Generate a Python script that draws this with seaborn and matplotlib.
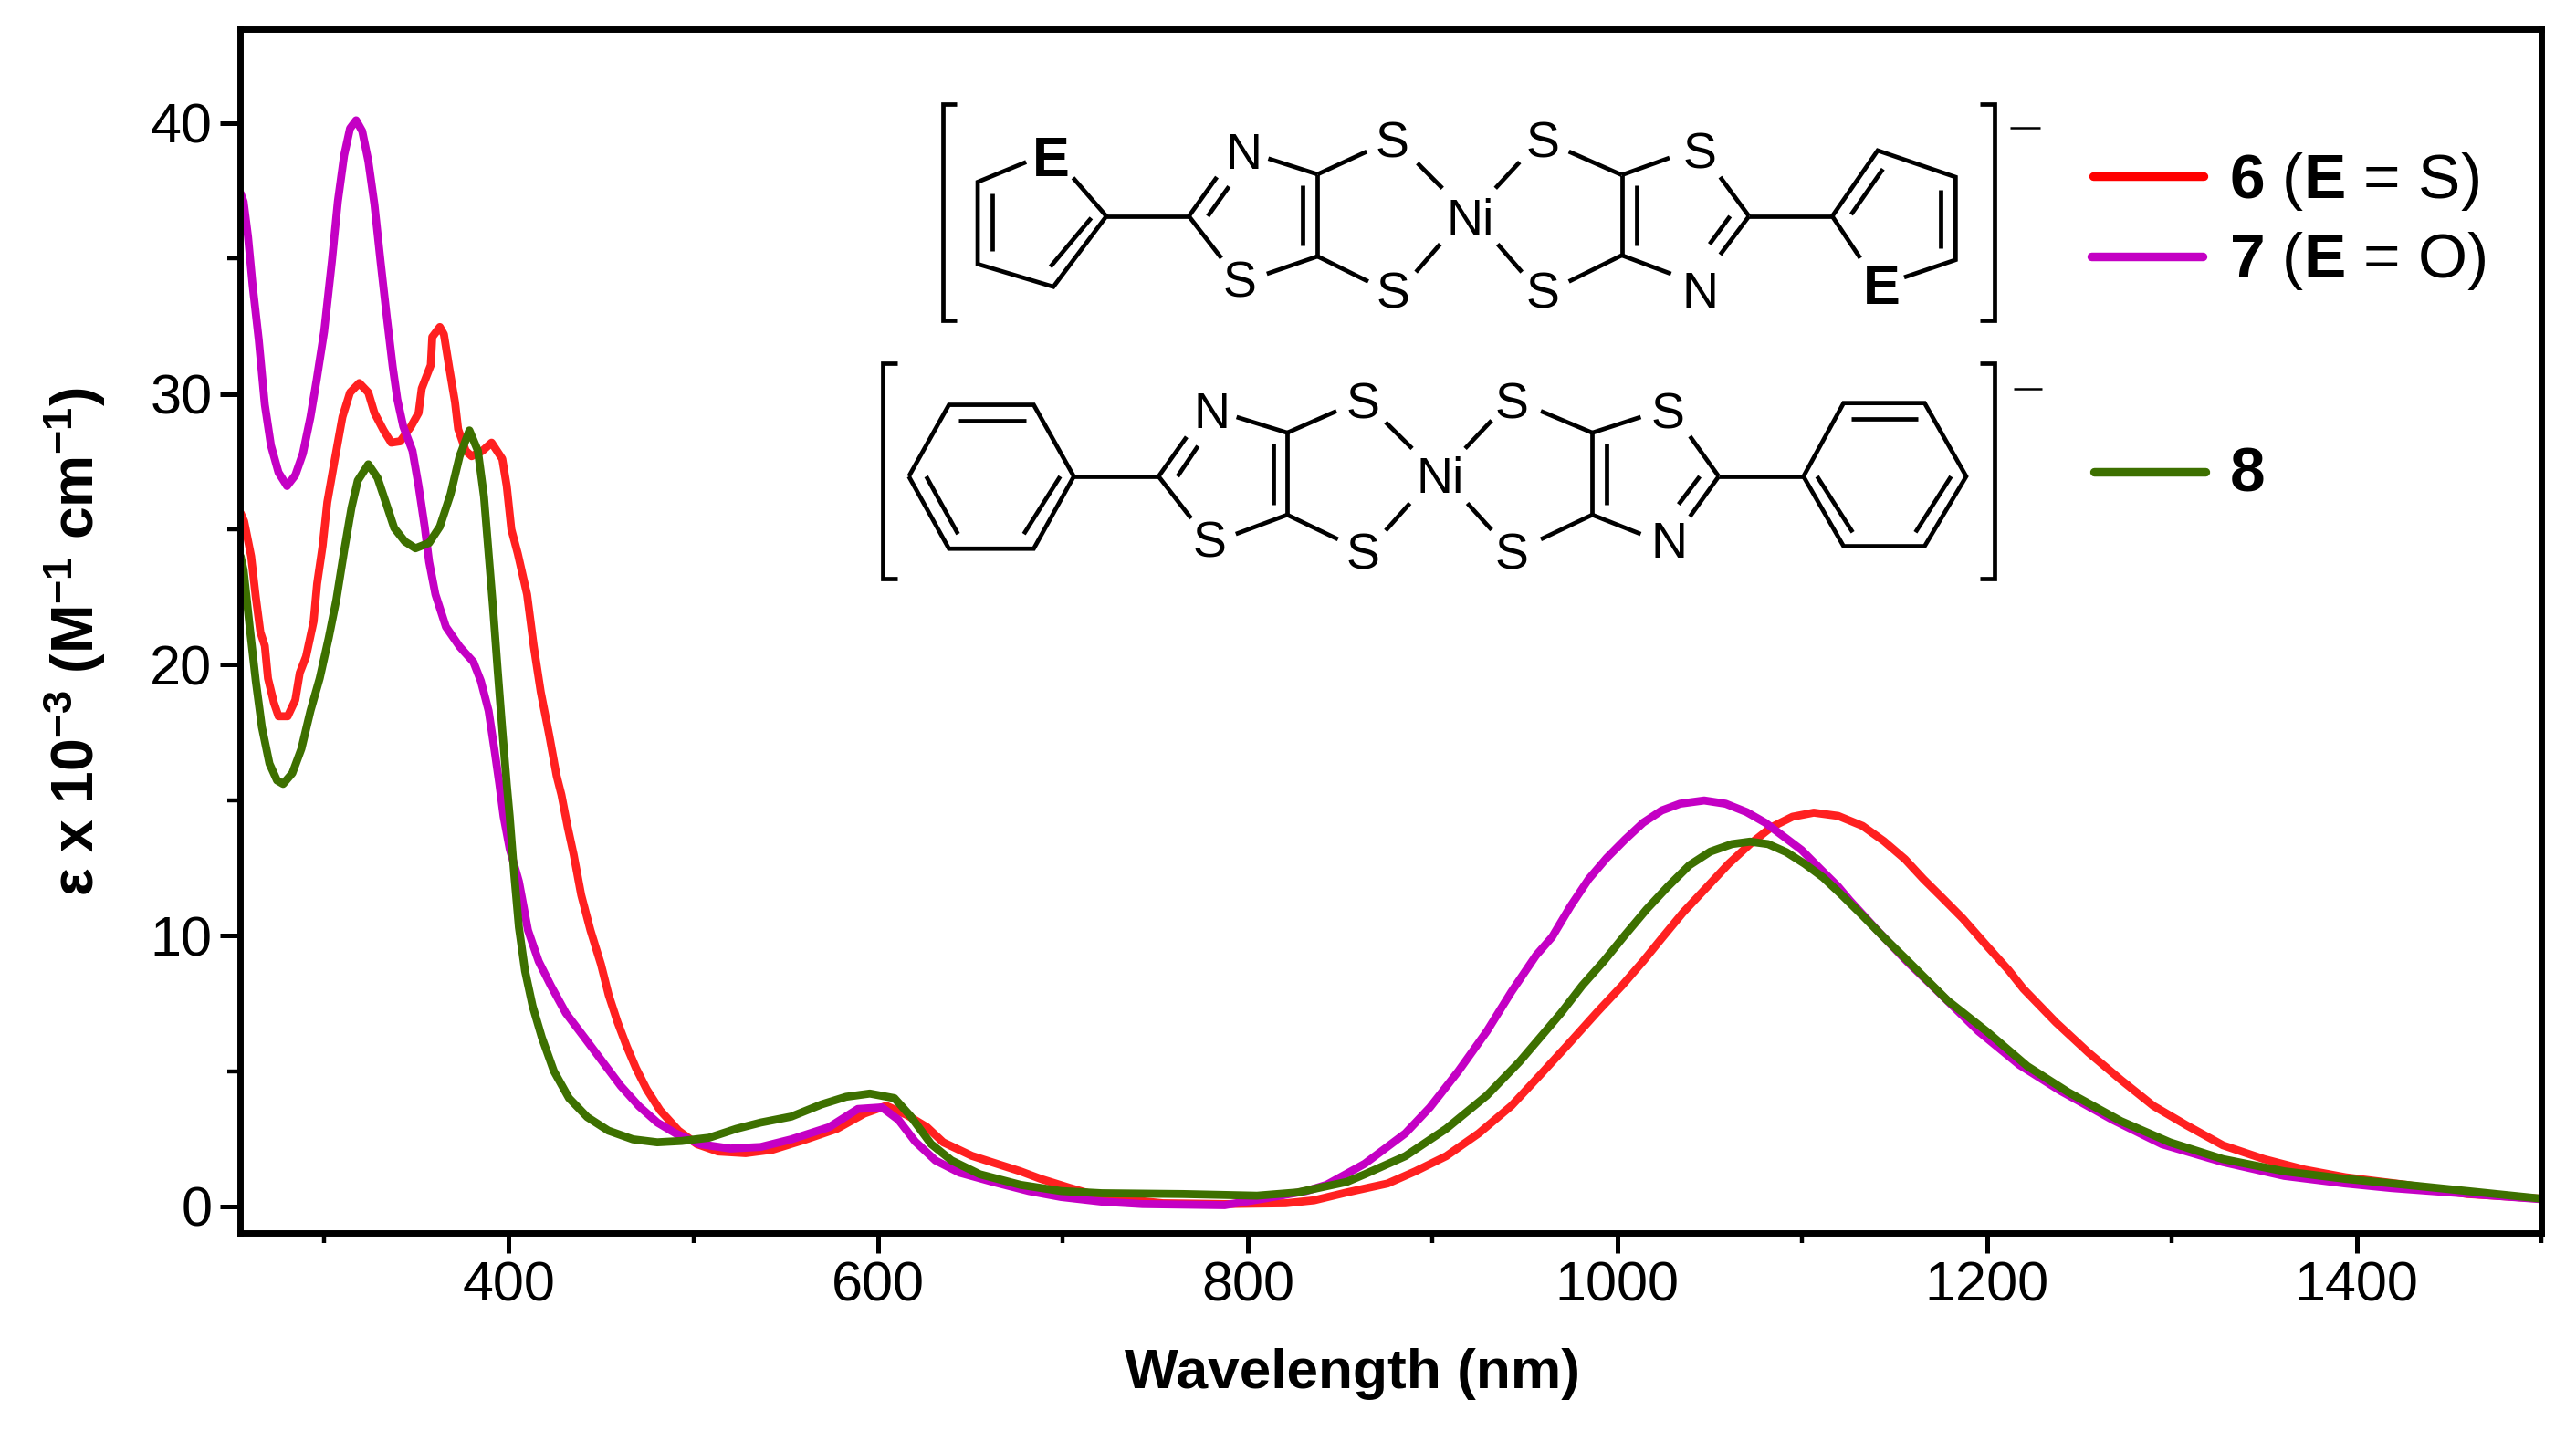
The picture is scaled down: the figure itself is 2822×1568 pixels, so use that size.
import numpy as np
import pandas as pd
import matplotlib
matplotlib.use("Agg")
import matplotlib.pyplot as plt
from matplotlib.lines import Line2D
from matplotlib.ticker import MultipleLocator
import seaborn as sns

# ---------- data ----------
red_nm = [255,256.9,260.7,263.2,265.7,268.1,269.8,273,275.5,280.5,284.6,287,290.4,294.5,296.4,299.4,301.9,306,310.1,314.2,319.2,324.1,327.4,332.4,336.5,341.4,347.2,351.3,353,357.9,358.7,362.8,365,367.8,371,372.7,376.8,380,385.9,390.8,396.6,399,401.5,405,410,413.6,417.4,422,426,428.6,432,435.2,439.3,444.3,450,454.2,459,464,469,474.7,482,492,502,513.4,528.3,543,561,577.7,592.5,604.4,615.4,626.4,635.2,650.7,677,688,703.6,721,754,787.5,820.5,836,853.6,875.7,890.7,907.4,925,942.7,958,973.6,989.4,1002.6,1014,1024,1035.5,1048.7,1060.2,1071.8,1083.3,1094.8,1106.3,1119.5,1132.7,1144.2,1155.7,1165.6,1175.5,1187,1200,1211.8,1219.7,1237.3,1255,1272.6,1290,1308,1327.7,1350,1372,1394,1427,1460,1500]
red_val = [25.6,25.3,24.0,22.5,21.2,20.7,19.5,18.6,18.1,18.1,18.7,19.7,20.3,21.6,23.0,24.4,26.0,27.6,29.15,30.05,30.4,30.05,29.3,28.65,28.2,28.25,28.8,29.3,30.2,31.06,32.1,32.47,32.2,31.0,29.7,28.7,27.9,27.7,27.9,28.2,27.6,26.6,25.0,24.1,22.6,20.7,19.0,17.4,15.9,15.2,14.0,13.0,11.5,10.2,8.94,7.8,6.8,5.9,5.1,4.33,3.55,2.8,2.3,2.03,1.97,2.1,2.48,2.87,3.43,3.72,3.38,2.93,2.37,1.87,1.3,1.02,0.69,0.35,0.12,0.09,0.12,0.23,0.52,0.85,1.3,1.86,2.7,3.72,4.84,6.0,7.2,8.16,9.06,9.9,10.85,11.81,12.65,13.38,14.0,14.39,14.54,14.42,14.05,13.49,12.82,12.09,11.42,10.63,9.62,8.72,8.04,6.8,5.68,4.67,3.72,3.0,2.26,1.75,1.36,1.08,0.8,0.46,0.29]

purple_nm = [255,256.6,259,261.5,264.8,268.1,271.4,275.5,280.1,284.6,288.7,292.8,296.1,300.2,304.4,307.6,311,314.2,317.5,320.8,324.1,327.4,330.7,334,337.3,339.8,343,348,351.3,354.6,357,360.4,366.1,373.5,381,385,389.2,392.5,395,397.3,400.6,405.6,410.5,416.3,422.9,431,441,450.9,460.7,470.6,480.5,490.4,503.6,520,536.5,553,573.5,589,602,611,620,631,644,662,681.6,699,721,743,765,787.5,809.5,831.6,842.6,863.3,885.3,898.6,914,929.4,942.7,956,964.7,974.6,984.5,994.3,1004.2,1014,1024,1033.9,1047,1058.6,1070,1080,1090,1099.7,1109.6,1119.5,1125.8,1141,1156.7,1172,1195.4,1217.5,1239.5,1268,1294.7,1327.7,1360.8,1394,1419,1500]
purple_val = [37.4,37.1,35.8,34.0,32.0,29.6,28.1,27.1,26.6,27.0,27.8,29.15,30.5,32.3,34.9,37.1,38.8,39.8,40.1,39.7,38.6,37.0,34.9,32.9,31.0,29.8,28.8,27.9,26.6,25.1,23.8,22.6,21.4,20.67,20.1,19.4,18.3,16.8,15.6,14.4,13.2,12.0,10.2,9.05,8.15,7.14,6.24,5.34,4.45,3.7,3.1,2.7,2.3,2.14,2.2,2.48,2.93,3.6,3.66,3.2,2.4,1.7,1.25,0.91,0.57,0.35,0.18,0.09,0.07,0.05,0.3,0.57,0.8,1.58,2.7,3.66,5.0,6.47,7.93,9.27,9.95,11.08,12.09,12.87,13.55,14.17,14.62,14.87,14.99,14.87,14.56,14.17,13.66,13.16,12.48,11.81,11.3,10.17,9.05,8.04,6.47,5.23,4.28,3.2,2.3,1.64,1.13,0.85,0.68,0.27]

green_nm = [255,256.6,259.9,263.2,266.5,270.6,274.7,278,283,287.9,292.8,297.8,302.7,306.8,311,315,318.4,324.1,329.1,334,338.1,343.9,349.6,357,362.8,368.6,373.5,378.8,383.4,386.7,389.2,391.6,394.1,396.6,399,400.6,403,405.6,408.9,413,418,424.5,432.7,442.6,454,467.3,480.5,493.7,508.5,523.3,536.5,553,569.4,582.6,595.5,608.8,617.6,628.6,639.7,655,677,699,721,765,805,827,853.6,863.3,885.3,907.4,929.4,947,969.6,981,992.7,1004,1015.8,1027.3,1039,1050.3,1062,1071.8,1081.6,1091.5,1101.4,1111.3,1121,1132.7,1144,1155.7,1167.3,1178.8,1199.8,1221.9,1244,1272.6,1299,1327.7,1360.8,1394,1427,1460,1500]
green_val = [24.0,23.5,21.4,19.4,17.7,16.35,15.73,15.6,16.0,16.9,18.3,19.5,21.0,22.4,24.2,25.8,26.8,27.4,26.9,25.9,25.05,24.55,24.3,24.5,25.1,26.3,27.7,28.65,27.9,26.2,24.1,22.1,19.8,17.6,15.6,14.4,12.3,10.3,8.7,7.4,6.24,5.0,4.0,3.3,2.8,2.48,2.37,2.42,2.54,2.87,3.1,3.32,3.77,4.05,4.17,4.0,3.33,2.31,1.7,1.19,0.8,0.57,0.49,0.46,0.4,0.52,0.91,1.19,1.86,2.87,4.1,5.34,7.15,8.16,9.06,10.01,10.97,11.81,12.6,13.1,13.38,13.47,13.38,13.08,12.65,12.15,11.53,10.74,9.95,9.17,8.38,7.6,6.47,5.18,4.22,3.15,2.37,1.75,1.3,1.02,0.8,0.57,0.29]

x_ticks = [400, 600, 800, 1000, 1200, 1400]
y_ticks = [0, 10, 20, 30, 40]
x_label = "Wavelength (nm)"
y_label = r"$\mathbf{\varepsilon\ x\ 10^{-3}\ (M^{-1}\ cm^{-1})}$"
legend_labels = [r"$\mathbf{6}$ ($\mathbf{E}$ = S)", r"$\mathbf{7}$ ($\mathbf{E}$ = O)", r"$\mathbf{8}$"]

RED, RED_KEY = "#FF2020", "#FF0000"
PURPLE = "#C400C4"
GREEN = "#3D7000"

# ---------- style ----------
sns.set_theme(style="ticks")
plt.rcParams["font.family"] = ["Liberation Sans", "DejaVu Sans"]
plt.rcParams["mathtext.fontset"] = "custom"
plt.rcParams["mathtext.rm"] = "Liberation Sans"
plt.rcParams["mathtext.bf"] = "Liberation Sans:bold"
plt.rcParams["mathtext.it"] = "Liberation Sans:italic"
plt.rcParams["mathtext.default"] = "regular"

W, H = 2822, 1568
fig = plt.figure(figsize=(W / 100, H / 100), dpi=100, facecolor="white")
L, R, T, B = 263, 2784, 32, 1351
ax = fig.add_axes([L / W, 1 - B / H, (R - L) / W, (B - T) / H])

for nm, val, col in [(red_nm, red_val, RED), (purple_nm, purple_val, PURPLE), (green_nm, green_val, GREEN)]:
    df = pd.DataFrame({"nm": nm, "val": val})
    sns.lineplot(data=df, x="nm", y="val", color=col, linewidth=6.3, ax=ax, legend=False,
                 estimator=None, sort=False, solid_joinstyle="round", solid_capstyle="round")

ax.set_xlim(254.7, 1500)
ax.set_ylim((1322 - 1351) / 29.68, (1322 - 32) / 29.68)
ax.set_xticks(x_ticks)
ax.set_yticks(y_ticks)
ax.xaxis.set_minor_locator(MultipleLocator(100))
ax.yaxis.set_minor_locator(MultipleLocator(5))
for s in ax.spines.values():
    s.set_linewidth(5)
    s.set_color("black")
    s.set_visible(True)
ax.tick_params(axis="x", which="major", length=16, width=3.6, labelsize=44, pad=6, color="black", labelcolor="black")
ax.tick_params(axis="x", which="minor", length=8, width=3.2, color="black")
ax.tick_params(axis="y", which="major", length=16, width=3.6, labelsize=44, pad=6, color="black", labelcolor="black")
ax.tick_params(axis="y", which="minor", length=10, width=3.2, color="black")

ax.set_xlabel(x_label, fontsize=44.8, fontweight="bold", color="black")
ax.xaxis.set_label_coords((1481 - L) / (R - L), (B - 1506) / (B - T), transform=ax.transAxes)
ax.xaxis.label.set_verticalalignment("center")
ax.set_ylabel(y_label, fontsize=46.3, color="black")
ax.yaxis.set_label_coords((82 - L) / (R - L), (B - 703) / (B - T), transform=ax.transAxes)
ax.yaxis.label.set_verticalalignment("center")


def line_px(xs, ys, color="black", lw=3.4, cap="round"):
    fig.add_artist(Line2D([x / W for x in xs], [1 - y / H for y in ys], color=color, lw=lw,
                          transform=fig.transFigure, solid_capstyle=cap, solid_joinstyle="miter"))


# ---------- legend keys and text ----------
for (y, base, col, x0, x1, lab) in [(193, 217, RED_KEY, 2293, 2414, legend_labels[0]),
                                    (281, 304, PURPLE, 2291, 2413, legend_labels[1]),
                                    (517, 538, GREEN, 2294, 2416, legend_labels[2])]:
    line_px([x0, x1], [y, y], color=col, lw=6.8)
    fig.text(2442 / W, 1 - base / H, lab, fontsize=50, ha="left", va="baseline", color="black")


# ---------- chemical structures (drawn from crop coordinates) ----------
def zx(x):
    return 950 + x / 1.206


def zy(y):
    return 80 + y / 2.613


bonds = [
    # top complex
    [(118, 90), (100, 90), (100, 708), (118, 708)],
    [(210, 255), (146, 312), (146, 547), (246, 612), (316, 410), (272, 300)],
    [(165, 345), (165, 510)], [(242, 555), (296, 415)],
    [(316, 410), (425, 410)], [(425, 410), (462, 298)], [(450, 410), (478, 325)],
    [(425, 410), (468, 530)], [(528, 575), (595, 525)], [(595, 525), (595, 290)],
    [(575, 495), (575, 322)], [(595, 290), (530, 245)], [(595, 290), (660, 225)],
    [(595, 525), (662, 597)], [(727, 258), (760, 330)], [(757, 490), (725, 570)],
    [(862, 255), (830, 330)], [(833, 490), (865, 570)], [(927, 225), (997, 292)],
    [(927, 597), (997, 522)], [(997, 292), (997, 522)], [(1017, 322), (1017, 495)],
    [(997, 292), (1060, 243)], [(997, 522), (1062, 575)], [(1127, 298), (1165, 410)],
    [(1165, 410), (1127, 520)], [(1140, 410), (1113, 490)], [(1165, 410), (1275, 410)],
    [(1312, 530), (1275, 410), (1335, 222), (1438, 298), (1438, 535), (1370, 585)],
    [(1300, 405), (1342, 275)], [(1418, 335), (1418, 502)],
    [(1470, 90), (1490, 90), (1490, 708), (1470, 708)],
    # bottom complex
    [(40, 830), (20, 830), (20, 1448), (40, 1448)],
    [(55, 1155), (108, 950), (220, 950), (273, 1155), (220, 1362), (108, 1362), (55, 1155)],
    [(120, 995), (210, 995)], [(207, 1320), (255, 1155)], [(120, 1320), (78, 1155)],
    [(273, 1155), (385, 1155)], [(385, 1155), (422, 1042)], [(410, 1155), (437, 1068)],
    [(385, 1155), (428, 1275)], [(487, 1320), (555, 1265)], [(555, 1265), (555, 1030)],
    [(537, 1235), (537, 1062)], [(555, 1030), (488, 985)], [(555, 1030), (620, 968)],
    [(555, 1265), (622, 1335)], [(685, 1000), (720, 1075)], [(717, 1232), (685, 1310)],
    [(825, 995), (790, 1075)], [(793, 1232), (825, 1308)], [(890, 968), (958, 1030)],
    [(890, 1335), (958, 1265)], [(958, 1030), (958, 1265)], [(977, 1062), (977, 1235)],
    [(958, 1030), (1022, 985)], [(958, 1265), (1022, 1320)], [(1087, 1040), (1125, 1155)],
    [(1125, 1155), (1087, 1270)], [(1100, 1155), (1072, 1235)], [(1125, 1155), (1237, 1155)],
    [(1237, 1155), (1290, 945), (1397, 945), (1452, 1155), (1397, 1355), (1290, 1355), (1237, 1155)],
    [(1300, 990), (1388, 990)], [(1255, 1155), (1302, 1315)], [(1432, 1155), (1385, 1315)],
    [(1470, 830), (1490, 830), (1490, 1448), (1470, 1448)],
]
for b in bonds:
    line_px([zx(p[0]) for p in b], [zy(p[1]) for p in b], cap="butt")
for (a, b2, y) in [(1510, 1550, 157), (1515, 1552, 903)]:
    line_px([zx(a), zx(b2)], [zy(y), zy(y)], lw=1.8, cap="butt")


def atom(s, x, y, size, weight="normal"):
    # y is the centre of the capital letter; place by baseline
    base = zy(y) + 0.36 * size * 100 / 72
    fig.text(zx(x) / W, 1 - base / H, s, fontsize=size, fontweight=weight, ha="center", va="baseline", color="black")


atoms = [("N", 497, 222), ("S", 693, 190), ("S", 492, 590), ("S", 695, 620), ("Ni", 797, 410),
         ("S", 892, 190), ("S", 892, 620), ("S", 1100, 222), ("N", 1100, 620),
         ("N", 455, 965), ("S", 655, 938), ("S", 452, 1335), ("S", 655, 1368), ("Ni", 757, 1150),
         ("S", 852, 938), ("S", 852, 1368), ("S", 1058, 965), ("N", 1060, 1335)]
for s, x, y in atoms:
    atom(s, x, y, 40)
for x, y in [(243, 237), (1340, 603)]:
    atom("E", x, y, 44, "bold")

fig.savefig("out.png", dpi=100, facecolor="white")
